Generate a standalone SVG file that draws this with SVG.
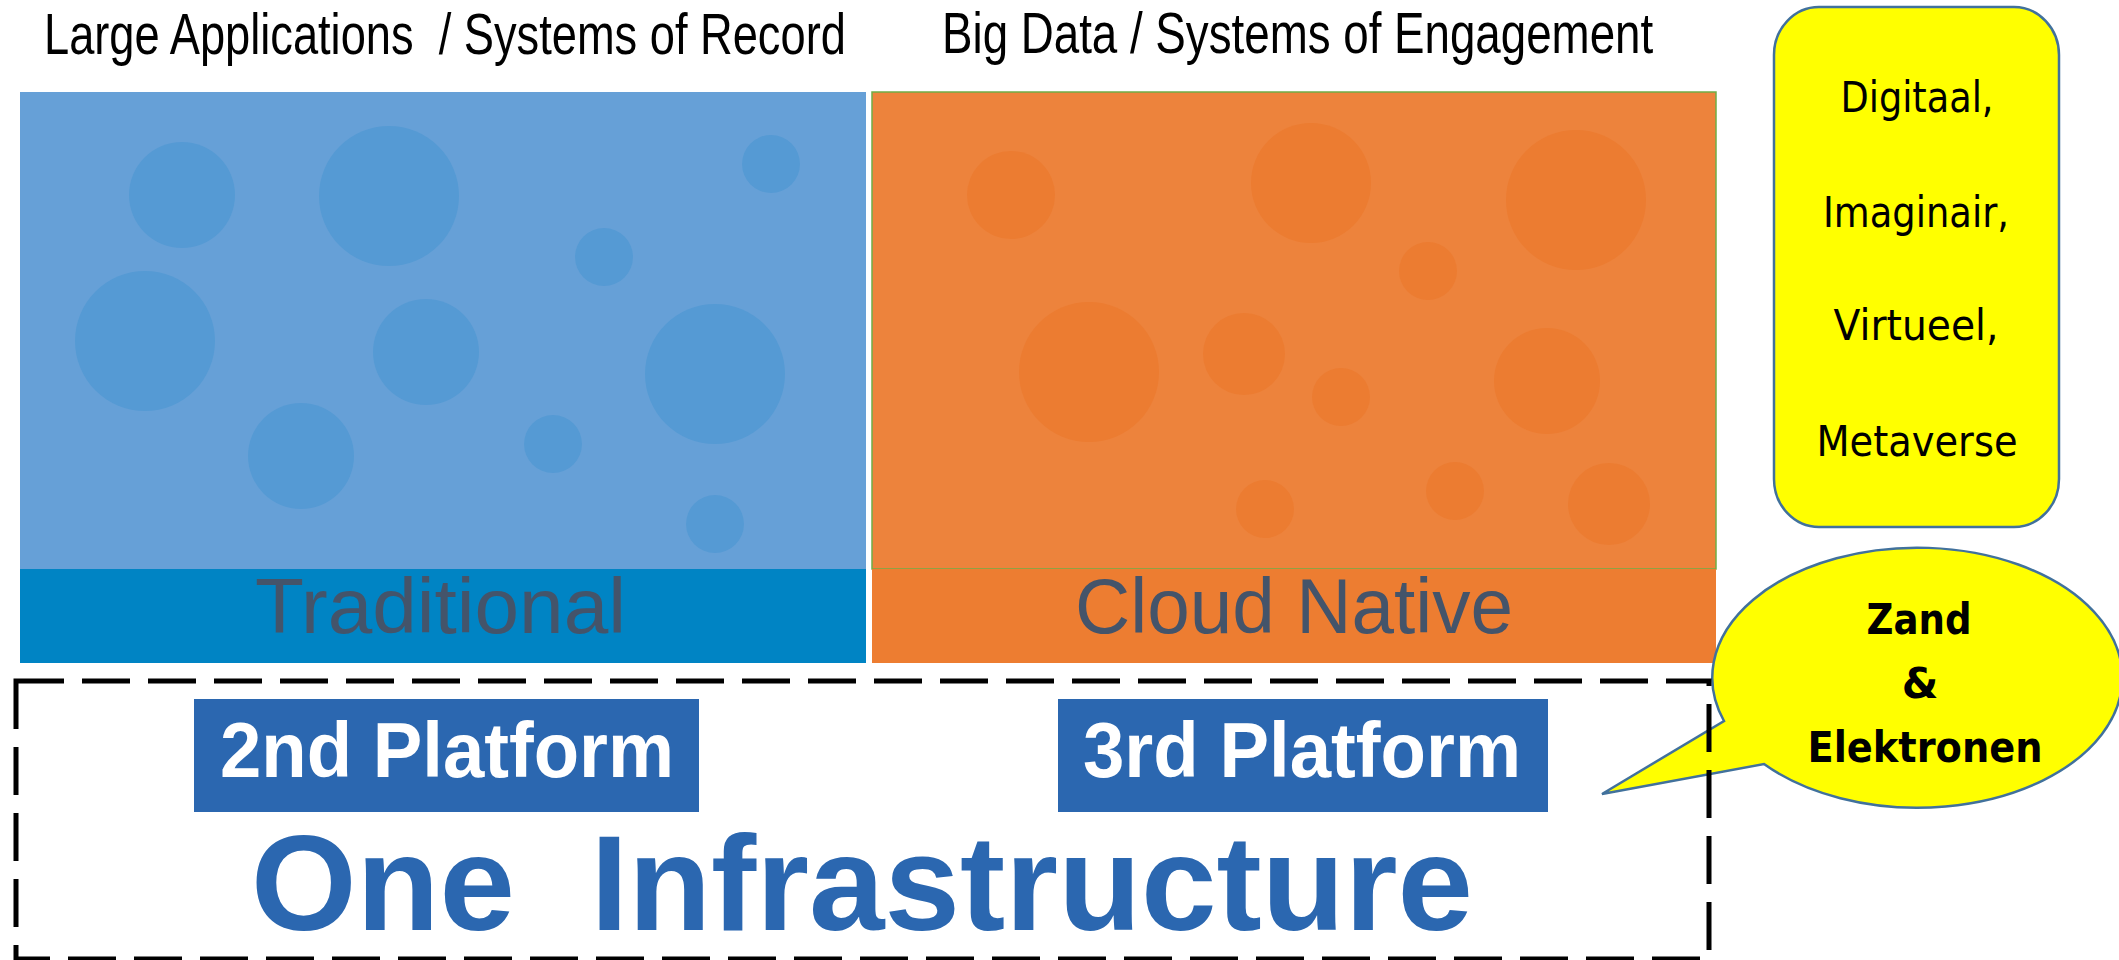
<svg xmlns="http://www.w3.org/2000/svg" width="2119" height="960" viewBox="0 0 2119 960">
<style>
.title{font-family:"Liberation Sans",Arial,sans-serif;font-size:57px;fill:#000}
.band{font-family:"Liberation Sans",Arial,sans-serif;font-size:78px;fill:#44546A}
.bc{fill:#559AD4}
.oc{fill:#EC7C31}
.plat{fill:#2B67B0}
.plattxt{font-family:"Liberation Sans",Arial,sans-serif;font-weight:bold;font-size:77px;fill:#fff}
.yel{fill:#FFFF00;stroke:#41719C;stroke-width:2.5}
.dv{font-family:"DejaVu Sans",Verdana,sans-serif;font-size:42px;fill:#000;text-anchor:middle}
.dvb{font-family:"DejaVu Sans",Verdana,sans-serif;font-weight:bold;font-size:42px;fill:#000;text-anchor:middle}
</style>
<rect width="2119" height="960" fill="#fff"/>

<g id="title-left"><text class="title" transform="translate(44,54) scale(0.79,1)" x="0" y="0" textLength="1015" lengthAdjust="spacingAndGlyphs" xml:space="preserve">Large Applications  / Systems of Record</text></g>
<g id="title-right"><text class="title" transform="translate(942,53) scale(0.8,1)" x="0" y="0" textLength="889" lengthAdjust="spacingAndGlyphs">Big Data / Systems of Engagement</text></g>

<g id="traditional">
<rect x="20" y="92" width="846" height="477" fill="#66A0D7"/>
<circle class="bc" cx="182" cy="195" r="53"/>
<circle class="bc" cx="389" cy="196" r="70"/>
<circle class="bc" cx="771" cy="164" r="29"/>
<circle class="bc" cx="604" cy="257" r="29"/>
<circle class="bc" cx="145" cy="341" r="70"/>
<circle class="bc" cx="426" cy="352" r="53"/>
<circle class="bc" cx="715" cy="374" r="70"/>
<circle class="bc" cx="301" cy="456" r="53"/>
<circle class="bc" cx="553" cy="444" r="29"/>
<circle class="bc" cx="715" cy="524" r="29"/>
<rect x="20" y="569" width="846" height="94" fill="#0084C4"/>
<text class="band" x="255" y="633" textLength="371" lengthAdjust="spacingAndGlyphs">Traditional</text>
</g>

<g id="cloud-native">
<rect x="872" y="92" width="844" height="477" fill="#ED833C" stroke="#70AD47" stroke-width="1.5"/>
<circle class="oc" cx="1011" cy="195" r="44"/>
<circle class="oc" cx="1311" cy="183" r="60"/>
<circle class="oc" cx="1576" cy="200" r="70"/>
<circle class="oc" cx="1428" cy="271" r="29"/>
<circle class="oc" cx="1089" cy="372" r="70"/>
<circle class="oc" cx="1244" cy="354" r="41"/>
<circle class="oc" cx="1341" cy="397" r="29"/>
<circle class="oc" cx="1547" cy="381" r="53"/>
<circle class="oc" cx="1265" cy="509" r="29"/>
<circle class="oc" cx="1455" cy="491" r="29"/>
<circle class="oc" cx="1609" cy="504" r="41"/>
<rect x="872" y="569" width="844" height="94" fill="#ED7D31"/>
<text class="band" x="1075" y="633" textLength="438" lengthAdjust="spacingAndGlyphs">Cloud Native</text>
</g>

<g id="digitaal">
<rect class="yel" x="1774" y="7" width="285" height="520" rx="45" ry="48"/>
<text class="dv" x="1917" y="112" textLength="153" lengthAdjust="spacingAndGlyphs">Digitaal,</text>
<text class="dv" x="1916" y="227" textLength="186" lengthAdjust="spacingAndGlyphs">Imaginair,</text>
<text class="dv" x="1916" y="340" textLength="165" lengthAdjust="spacingAndGlyphs">Virtueel,</text>
<text class="dv" x="1917" y="456" textLength="201" lengthAdjust="spacingAndGlyphs">Metaverse</text>
</g>

<g id="platform-2">
<rect class="plat" x="194" y="699" width="505" height="113"/>
<text class="plattxt" x="220" y="777" textLength="454" lengthAdjust="spacingAndGlyphs">2nd Platform</text>
</g>
<g id="platform-3">
<rect class="plat" x="1058" y="699" width="490" height="113"/>
<text class="plattxt" x="1083" y="777" textLength="438" lengthAdjust="spacingAndGlyphs">3rd Platform</text>
</g>

<g id="infrastructure">
<text x="251" y="930" font-family="Liberation Sans, Arial, sans-serif" font-weight="bold" font-size="136" fill="#2B67B0" textLength="1222" lengthAdjust="spacingAndGlyphs" xml:space="preserve">One  Infrastructure</text>
</g>

<g id="zand">
<path class="yel" d="M1724,721 A205,130 0 1 1 1764,764 L1602,794 Z"/>
<text class="dvb" x="1919" y="634" textLength="105" lengthAdjust="spacingAndGlyphs">Zand</text>
<text class="dvb" x="1920" y="698">&amp;</text>
<text class="dvb" x="1925" y="762" textLength="235" lengthAdjust="spacingAndGlyphs">Elektronen</text>
</g>

<g id="connectors">
<rect x="16" y="681" width="1693" height="278" fill="none" stroke="#000" stroke-width="5" stroke-dasharray="48 18"/>
</g>
</svg>
